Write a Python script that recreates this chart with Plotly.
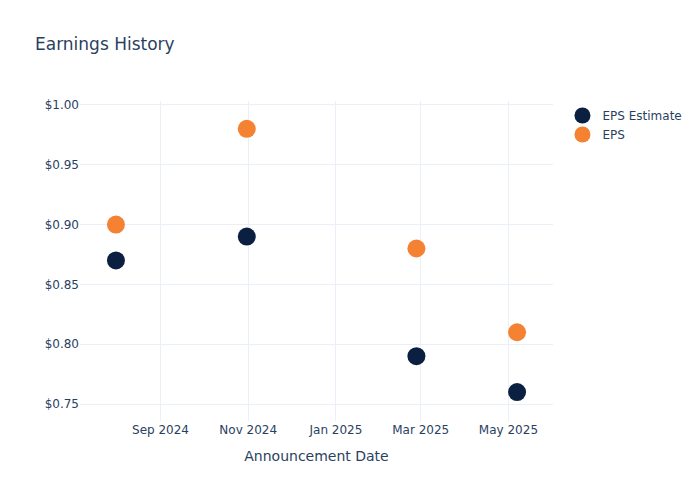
import plotly.graph_objects as go

dates = ["2024-08-01", "2024-10-31", "2025-02-26", "2025-05-07"]
eps_estimate = [0.87, 0.89, 0.79, 0.76]
eps_actual = [0.90, 0.98, 0.88, 0.81]

W, H = 684, 484

fig = go.Figure()
fig.add_trace(go.Scatter(x=dates, y=eps_estimate, mode="markers", name="EPS Estimate",
                         marker=dict(size=18, color="#0b1f41")))
fig.add_trace(go.Scatter(x=dates, y=eps_actual, mode="markers", name="EPS",
                         marker=dict(size=18, color="#f58133")))
fig.update_layout(
    template="plotly_white",
    width=W, height=H,
    font=dict(family="DejaVu Sans"),
    margin=dict(l=72, r=139, t=93, b=71, autoexpand=False),
    title=dict(text="Earnings History", x=27 / W, xanchor="left", xref="container",
               y=1 - 36 / H, yanchor="middle", yref="container"),
    xaxis=dict(title=dict(text="Announcement Date"), dtick="M2", tickformat="%b %Y",
               range=["2024-07-07", "2025-06-01"]),
    yaxis=dict(tickprefix="$", tickformat=".2f", range=[0.7358, 1.0033]),
)
fig.write_html("out.html")
